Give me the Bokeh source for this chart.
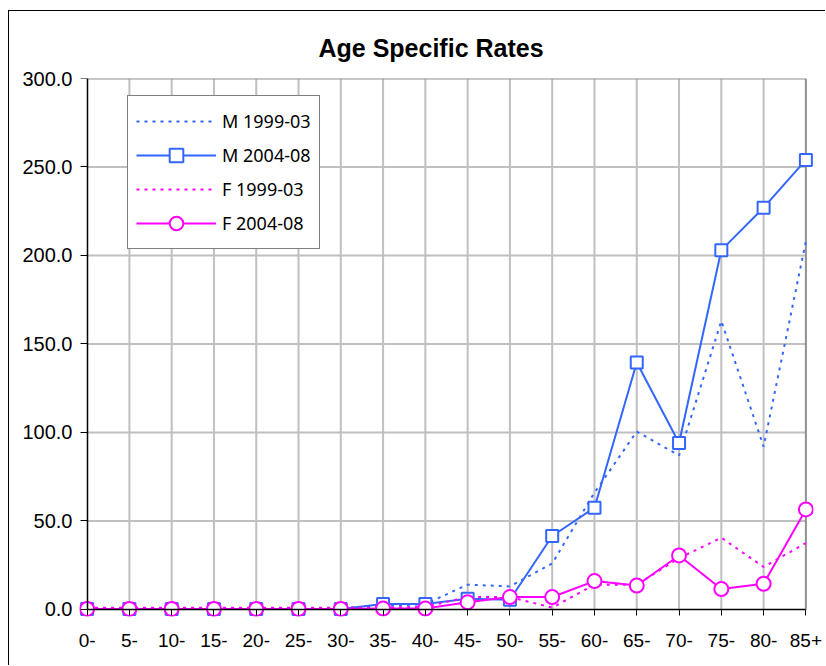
from bokeh.plotting import figure
from bokeh.models import Range1d, FixedTicker, NumeralTickFormatter, Legend, LegendItem, LinearAxis
from bokeh.embed import file_html
from bokeh.resources import INLINE

categories = ["0-", "5-", "10-", "15-", "20-", "25-", "30-", "35-", "40-",
              "45-", "50-", "55-", "60-", "65-", "70-", "75-", "80-", "85+"]
m_1999_03 = [0.8, 0.8, 0.8, 0.8, 0.8, 0.8, 0.8, 2.0, 3.0,
             14.0, 13.0, 26.0, 66.0, 100.5, 87.0, 163.0, 92.0, 208.0]
m_2004_08 = [0.3, 0.3, 0.3, 0.3, 0.3, 0.3, 0.3, 3.0, 3.0,
             6.0, 5.5, 41.5, 57.5, 139.5, 94.0, 203.0, 227.0, 254.0]
f_1999_03 = [1.0, 1.0, 1.0, 1.0, 1.0, 1.0, 1.0, 1.0, 1.5,
             7.0, 7.0, 1.0, 14.0, 14.0, 29.0, 40.5, 24.0, 37.5]
f_2004_08 = [0.3, 0.3, 0.3, 0.3, 0.3, 0.3, 0.3, 0.5, 0.5,
             4.0, 7.0, 7.0, 16.0, 13.5, 30.5, 11.5, 14.5, 56.5]
y_ticks = [0, 50, 100, 150, 200, 250, 300]

x = list(range(len(categories)))
x_max = len(categories) - 1
y_max = y_ticks[-1]

BLUE = "#3366FF"
MAGENTA = "#FF00FF"
GRID = "#C0C0C0"
LABEL_FONT = "Liberation Sans"

p = figure(width=817, height=655, output_backend="svg", toolbar_location=None,
           x_range=Range1d(-0.18, x_max + 0.18), y_range=Range1d(-4, y_max),
           min_border_left=70, min_border_right=13, min_border_top=67, min_border_bottom=50)
p.styles = {"margin-left": "8px", "margin-top": "10px",
            "border-top": "1px solid black", "border-left": "1px solid black"}
p.outline_line_color = None
p.background_fill_color = "white"
p.border_fill_color = "white"
p.xgrid.visible = False
p.ygrid.visible = False

# grid lines (limited to the plot area)
vx = x[1:-1]
p.segment(x0=vx, y0=[0] * len(vx), x1=vx, y1=[y_max] * len(vx), line_color=GRID, line_width=2)
hy = y_ticks[1:-1]
p.segment(x0=[0] * len(hy), y0=hy, x1=[x_max] * len(hy), y1=hy, line_color=GRID, line_width=2)
# plot area border (top and right)
p.segment(x0=[0, x_max], y0=[y_max, 0], x1=[x_max, x_max], y1=[y_max, y_max],
          line_color="#909090", line_width=2)

# series
r1 = p.line(x, m_1999_03, line_color=BLUE, line_width=2, line_dash="3 5")
r2l = p.line(x, m_2004_08, line_color=BLUE, line_width=2)
r2m = p.scatter(x, m_2004_08, marker="square", size=12, line_color=BLUE, line_width=2,
                fill_color="white")
r3 = p.line(x, f_1999_03, line_color=MAGENTA, line_width=2, line_dash="3 5")
r4l = p.line(x, f_2004_08, line_color=MAGENTA, line_width=2)
r4m = p.scatter(x, f_2004_08, marker="circle", size=14, line_color=MAGENTA, line_width=2,
                fill_color="white")

# label-only axes at the frame edges
xa = p.xaxis[0]
xa.ticker = FixedTicker(ticks=x)
xa.major_label_overrides = {i: c for i, c in enumerate(categories)}
xa.minor_tick_line_color = None
xa.major_tick_line_color = None
xa.axis_line_color = None
xa.major_tick_in = 0
xa.major_tick_out = 0
xa.major_label_standoff = 17
xa.major_label_text_font = LABEL_FONT
xa.major_label_text_font_size = "19px"
xa.major_label_text_color = "black"

ya = p.yaxis[0]
ya.ticker = FixedTicker(ticks=y_ticks)
ya.formatter = NumeralTickFormatter(format="0.0")
ya.minor_tick_line_color = None
ya.major_tick_line_color = None
ya.axis_line_color = None
ya.major_tick_in = 0
ya.major_tick_out = 0
ya.major_label_standoff = 7
ya.major_label_text_font = LABEL_FONT
ya.major_label_text_font_size = "20px"
ya.major_label_text_color = "black"

# axis lines and ticks crossing at zero
xline = LinearAxis(fixed_location=0, bounds=(0, x_max), ticker=FixedTicker(ticks=x),
                   major_label_text_font_size="0px", major_label_text_color=None,
                   minor_tick_line_color=None, major_tick_in=0, major_tick_out=6,
                   axis_line_color="black", axis_line_width=1.5,
                   major_tick_line_color="black", major_label_standoff=0)
p.add_layout(xline, "below")
yline = LinearAxis(fixed_location=0, bounds=(0, y_max), ticker=FixedTicker(ticks=y_ticks),
                   major_label_text_font_size="0px", major_label_text_color=None,
                   minor_tick_line_color=None, major_tick_in=0, major_tick_out=7,
                   axis_line_color="black", axis_line_width=1.5,
                   major_tick_line_color="black", major_label_standoff=0)
p.add_layout(yline, "left")

# title
p.title.text = "Age Specific Rates"
p.title.align = "left"
p.title.offset = 239
p.title.text_font = LABEL_FONT
p.title.text_font_style = "bold"
p.title.text_font_size = "25px"
p.title.text_color = "black"
p.title.standoff = 33

legend = Legend(items=[
    LegendItem(label="M 1999-03", renderers=[r1]),
    LegendItem(label="M 2004-08", renderers=[r2l, r2m]),
    LegendItem(label="F 1999-03", renderers=[r3]),
    LegendItem(label="F 2004-08", renderers=[r4l, r4m]),
], location=(48, 367))
legend.border_line_color = "black"
legend.border_line_width = 1
legend.background_fill_color = "white"
legend.background_fill_alpha = 1
legend.padding = 8
legend.spacing = 0
legend.margin = 0
legend.glyph_height = 34
legend.glyph_width = 80
legend.label_standoff = 6
legend.label_text_font = "Noto Sans"
legend.label_text_font_size = "18px"
legend.label_text_color = "black"
p.add_layout(legend)

open("out.html", "w").write(file_html(p, INLINE))
